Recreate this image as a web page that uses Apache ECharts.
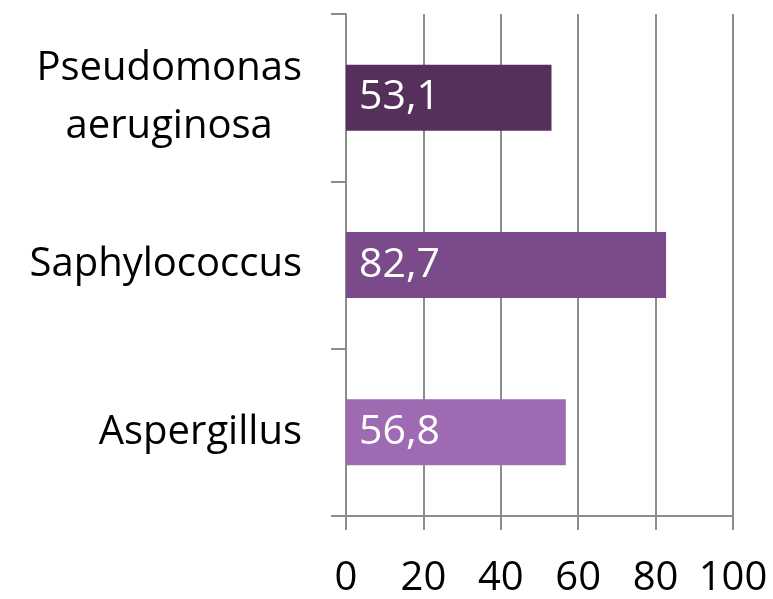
<!DOCTYPE html>
<html>
<head>
<meta charset="utf-8">
<script src="https://cdn.jsdelivr.net/npm/echarts@6/dist/echarts.min.js"></script>
<style>
  html, body { margin: 0; padding: 0; background: #fff; }
  #chart { width: 773px; height: 599px; }
</style>
</head>
<body>
<div id="chart"></div>
<script>
// data, bottom to top as on the chart
const categories = ['Aspergillus', 'Saphylococcus', 'Pseudomonas\naeruginosa']
const values = [56.8, 82.7, 53.1]
const xTicks = [0, 20, 40, 60, 80, 100]

const barColors = ['#9e6bb3', '#7b4a8a', '#55305b']
const gridGray = '#8c8c8c'
const font = '"Open Sans", "Liberation Sans", sans-serif'

const chart = echarts.init(document.getElementById('chart'))

chart.setOption({
  animation: false,
  grid: { left: 346, right: 40, top: 14, bottom: 83 },
  xAxis: {
    type: 'value',
    min: xTicks[0],
    max: xTicks[xTicks.length - 1],
    interval: 20,
    axisLine: { show: true, lineStyle: { color: gridGray, width: 2 } },
    axisTick: { show: true, length: 14, lineStyle: { color: gridGray, width: 2 } },
    splitLine: { show: true, lineStyle: { color: gridGray, width: 2 } },
    axisLabel: {
      margin: 43,
      color: '#000',
      fontSize: 40,
      fontFamily: font
    }
  },
  yAxis: {
    type: 'category',
    data: categories,
    axisLine: { show: true, lineStyle: { color: gridGray, width: 2 } },
    axisTick: { show: true, length: 15, lineStyle: { color: gridGray, width: 2 } },
    axisLabel: {
      margin: 44,
      color: '#000',
      fontFamily: font,
      formatter: v => v.split('\n').map(s => '{c|' + s + '}').join('\n'),
      rich: {
        c: { fontSize: 40, lineHeight: 58, align: 'center', color: '#000', fontFamily: font }
      }
    }
  },
  series: [{
    type: 'bar',
    barWidth: 66,
    data: values.map((v, i) => ({ value: v, itemStyle: { color: barColors[i] } })),
    label: {
      show: true,
      position: 'insideLeft',
      distance: 13,
      color: '#fff',
      fontSize: 41,
      fontFamily: font,
      formatter: p => String(p.value).replace('.', ',')
    }
  }]
})
</script>
</body>
</html>
